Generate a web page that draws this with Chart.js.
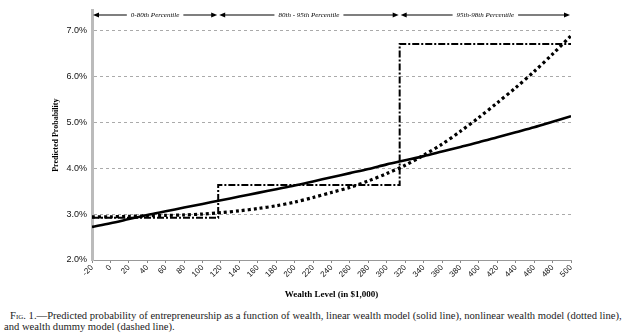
<!DOCTYPE html>
<html>
<head>
<meta charset="utf-8">
<script src="https://cdn.jsdelivr.net/npm/chart.js@4"></script>
<style>
  body { margin: 0; background: #fff; width: 635px; height: 334px; overflow: hidden; position: relative; }
  #chart { position: absolute; left: 0; top: 0; }
  #caption { position: absolute; left: 4px; top: 310px; width: 631px; font-family: "Liberation Serif", serif; font-size: 10.6px; line-height: 11px; color: #222; text-indent: 6px; white-space: nowrap; }
  .sc { font-variant: small-caps; }
</style>
</head>
<body>
<canvas id="chart" width="635" height="303"></canvas>
<div id="caption"><span class="sc">Fig.</span> 1.—Predicted probability of entrepreneurship as a function of wealth, linear wealth model (solid line), nonlinear wealth model (dotted line),<br>and wealth dummy model (dashed line).</div>
<script>
// valores (riqueza en miles de $, probabilidad en %)
const wealthLevels = [-20, 0, 20, 40, 60, 80, 100, 120, 140, 160, 180, 200, 220, 240, 260, 280, 300, 320, 340, 360, 380, 400, 420, 440, 460, 480, 500];
const linearModel = [2.72, 2.80, 2.89, 2.98, 3.06, 3.14, 3.22, 3.30, 3.38, 3.46, 3.54, 3.62, 3.71, 3.80, 3.89, 3.98, 4.08, 4.17, 4.26, 4.36, 4.46, 4.56, 4.67, 4.78, 4.89, 5.01, 5.13];
const nonlinearModel = [2.94, 2.94, 2.95, 2.96, 2.97, 2.98, 3.00, 3.03, 3.07, 3.12, 3.18, 3.26, 3.36, 3.47, 3.58, 3.72, 3.88, 4.06, 4.28, 4.52, 4.80, 5.10, 5.42, 5.75, 6.10, 6.48, 6.88];
const dummyBreaks = [-20, 117, 314, 500];
const dummyLevels = [2.92, 3.63, 6.70];
const percentileLabels = ['0-80th Percentile', '80th - 95th Percentile', '95th-98th Percentile'];
const yTicks = [2, 3, 4, 5, 6, 7];

const toPoints = (xs, ys) => xs.map((x, i) => ({ x: x, y: ys[i] }));

// escalones del modelo dummy
const dummyPoints = [];
dummyLevels.forEach((lvl, i) => {
    dummyPoints.push({ x: dummyBreaks[i], y: lvl });
    dummyPoints.push({ x: dummyBreaks[i + 1], y: lvl });
});

// flechas de percentiles arriba del grafico
const percentilePlugin = {
    id: 'percentiles',
    afterDraw(chart) {
        const ctx = chart.ctx;
        const xs = chart.scales.x;
        const y = 15;
        ctx.save();
        ctx.strokeStyle = '#000';
        ctx.fillStyle = '#000';
        ctx.lineWidth = 1.2;
        ctx.font = 'italic 7px "Liberation Serif"';
        ctx.textAlign = 'center';
        ctx.textBaseline = 'middle';
        percentileLabels.forEach((label, i) => {
            const x0 = xs.getPixelForValue(dummyBreaks[i]) + 1;
            const x1 = xs.getPixelForValue(dummyBreaks[i + 1]) - 1;
            const mid = (x0 + x1) / 2;
            const half = ctx.measureText(label).width / 2 + 4;
            ctx.beginPath();
            ctx.moveTo(x0 + 4, y); ctx.lineTo(mid - half, y);
            ctx.moveTo(mid + half, y); ctx.lineTo(x1 - 4, y);
            ctx.stroke();
            [[x0, 1], [x1, -1]].forEach(([ax, d]) => {
                ctx.beginPath();
                ctx.moveTo(ax, y);
                ctx.lineTo(ax + 6 * d, y - 2.5);
                ctx.lineTo(ax + 6 * d, y + 2.5);
                ctx.closePath();
                ctx.fill();
            });
            ctx.fillText(label, mid, y);
        });
        ctx.restore();
    }
};

const ctx = document.getElementById('chart').getContext('2d');
new Chart(ctx, {
    type: 'line',
    data: {
        datasets: [
            {
                label: 'Linear wealth model',
                data: toPoints(wealthLevels, linearModel),
                borderColor: '#000',
                borderWidth: 2.6,
                pointRadius: 0,
                tension: 0.3
            },
            {
                label: 'Nonlinear wealth model',
                data: toPoints(wealthLevels, nonlinearModel),
                borderColor: '#000',
                borderWidth: 3.2,
                borderDash: [3, 3],
                pointRadius: 0,
                tension: 0.3
            },
            {
                label: 'Wealth dummy model',
                data: dummyPoints,
                borderColor: '#000',
                borderWidth: 2,
                borderDash: [7, 2, 2, 2],
                pointRadius: 0,
                tension: 0
            }
        ]
    },
    options: {
        responsive: false,
        animation: false,
        layout: { padding: { top: 5, right: 64, left: 51, bottom: 0 } },
        plugins: {
            legend: { display: false },
            tooltip: { enabled: false }
        },
        scales: {
            x: {
                type: 'linear',
                min: -20,
                max: 500,
                afterBuildTicks: (scale) => { scale.ticks = wealthLevels.map(v => ({ value: v })); },
                ticks: {
                    minRotation: 45,
                    maxRotation: 45,
                    padding: 0,
                    color: '#111',
                    font: { family: 'Liberation Sans', size: 8 }
                },
                grid: { drawOnChartArea: false, drawTicks: true, tickLength: 3, color: '#888' },
                border: { color: '#999', width: 1 },
                title: {
                    display: true,
                    text: 'Wealth Level (in $1,000)',
                    color: '#000',
                    font: { family: 'Liberation Serif', size: 9, weight: 'bold' },
                    padding: { top: 2, bottom: 3 }
                },
                afterFit: (scale) => { scale.height = 43; }
            },
            y: {
                min: 2,
                max: 7.43,
                afterBuildTicks: (scale) => { scale.ticks = yTicks.map(v => ({ value: v })); },
                ticks: {
                    callback: (v) => v.toFixed(1) + '%',
                    color: '#111',
                    padding: 5,
                    font: { family: 'Liberation Sans', size: 9 }
                },
                grid: { color: '#aaa', drawTicks: false, lineWidth: 1 },
                border: { color: '#bbb', width: 3, dash: [3, 3] },
                title: {
                    display: true,
                    text: 'Predicted Probability',
                    color: '#000',
                    font: { family: 'Liberation Serif', size: 8, weight: 'bold' },
                    padding: { top: 0, bottom: 0 }
                },
                afterFit: (scale) => { scale.width = 41; }
            }
        }
    },
    plugins: [percentilePlugin]
});
</script>
</body>
</html>
